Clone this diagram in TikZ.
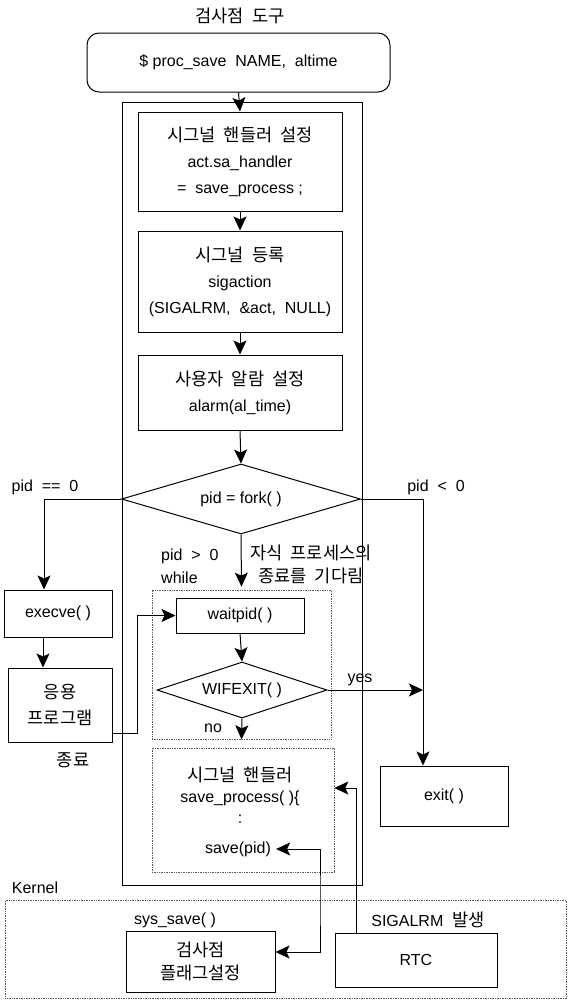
\documentclass[tikz,border=0pt]{standalone}
\usepackage{fontspec}
\setmainfont{Liberation Sans}
\newfontfamily\krfont[Scale=1.1]{Noto Sans CJK KR}
\newcommand\K[1]{{\krfont #1}}
\usetikzlibrary{arrows.meta,shapes.geometric}
\begin{document}
\begin{tikzpicture}[x=1pt,y=-1pt,
  every node/.style={font=\fontsize{16}{26}\selectfont},
  box/.style={draw, line width=1pt, inner sep=0pt, align=center},
  dbox/.style={draw, densely dotted, line width=0.7pt, gray!70!black, inner sep=0pt},
  dia/.style={draw, diamond, line width=1pt, inner sep=0pt, aspect=3},
  lbl/.style={inner sep=1pt, align=center},
  arr/.style={-{Stealth[length=14pt,width=13pt,inset=3pt]}, line width=1pt},
  darr/.style={{Stealth[length=14pt,width=13pt,inset=3pt]}-{Stealth[length=14pt,width=13pt,inset=3pt]}, line width=1pt}]
\useasboundingbox (0,0) rectangle (568,1001);

% title and command
\node[lbl] (title) at (240,16) {\K{검사점\ \ 도구}};
\node[box, rounded corners=12pt, minimum width=303, minimum height=59] (cmd) at (238.5,62.5) {\$ proc\_save\ \ NAME,\ \ altime};

% outer process frame
\node[draw, line width=1pt, minimum width=240, minimum height=783, inner sep=0pt] (outer) at (242,493.5) {};

\node[box, minimum width=204, minimum height=99] (b1) at (240,161.5) {\K{시그널\ \ 핸들러\ \ 설정}\\act.sa\_handler\\=\ \ save\_process\ ;};
\node[box, minimum width=204, minimum height=101] (b2) at (240,281.5) {\K{시그널\ \ 등록}\\sigaction\\(SIGALRM,\ \ \&act,\ \ NULL)};
\node[box, minimum width=204, minimum height=75] (b3) at (240,392.5) {\K{사용자\ \ 알람\ \ 설정}\\alarm(al\_time)};
\node[dia, minimum width=239, minimum height=70] (fork) at (241,499) {pid = fork( )};

% child branch
\node[box, minimum width=108, minimum height=47] (exec) at (58,613.5) {execve( )};
\node[box, minimum width=104, minimum height=74] (app) at (60,705) {\K{응용}\\\K{프로그램}};

% parent loop
\node[dbox, minimum width=179, minimum height=149] (loop) at (241.5,664.5) {};
\node[box, minimum width=128, minimum height=35] (wait) at (240,615.5) {waitpid( )};
\node[dia, minimum width=170, minimum height=56] (wif) at (242,690) {WIFEXIT( )};

% signal handler
\node[dbox, minimum width=182, minimum height=124] (hbox) at (243,810) {};
\node[lbl, font=\fontsize{16}{21}\selectfont] (htext) at (240,795) {\K{시그널\ \ 핸들러}\\save\_process( )\{\\:};
\node[lbl, inner sep=5pt] (savepid) at (238,849) {save(pid)};

% error branch
\node[box, minimum width=128, minimum height=60] (exit) at (444,796) {exit( )};

% kernel
\node[dbox, minimum width=561, minimum height=98, anchor=north west] (kernel) at (5,900) {};
\node[box, minimum width=149, minimum height=61] (ckpt) at (200.5,961.5) {\K{검사점}\\[-3pt]\K{플래그설정}};
\node[box, minimum width=162, minimum height=54] (rtc) at (416,960) {RTC};

% labels
\node[lbl] (l0) at (45,487) {pid\ \ ==\ \ 0};
\node[lbl] (lneg) at (436,487) {pid\ \ <\ \ 0};
\node[lbl, anchor=west, align=left] (lpos) at (160,566) {pid\ \ >\ \ 0\\[-3pt]while};
\node[lbl] (lwait) at (311,564) {\K{자식\ \ 프로세스의}\\[-3pt]\K{종료를\ \ 기다림}};
\node[lbl] (lyes) at (360,680) {yes};
\node[lbl] (lno) at (213,728) {no};
\node[lbl] (lend) at (73,760) {\K{종료}};
\node[lbl] (lker) at (35,888) {Kernel};
\node[lbl] (lsys) at (175,920) {sys\_save( )};
\node[lbl] (lsig) at (428,920) {SIGALRM\ \ \K{발생}};

% connectors
\draw[arr] (cmd.south) -- (b1.north);
\draw[arr] (b1.south) -- (b2.north);
\draw[arr] (b2.south) -- (b3.north);
\draw[arr] (b3.south) -- (fork.north);
\draw[arr] (fork.west) -| ([xshift=-14pt]exec.north);
\draw[arr] ([xshift=-15pt]exec.south) -- ([xshift=-15pt]exec.south |- app.north);
\draw[arr] ([yshift=-28pt]app.east) -- ++(25,0) |- (wait.west);
\draw[arr] (fork.east) -| ([xshift=-21pt]exit.north);
\coordinate (xline) at ([xshift=-21pt]exit.north);
\draw[arr] (fork.south) -- ([yshift=3pt]loop.north);
\draw[arr] (wait.south) -- (wif.north);
\draw[arr] (wif.east) -- (wif.east -| xline);
\draw[arr] (wif.south) -- (loop.south);
\draw[arr] ([xshift=-60pt]rtc.north) |- ([yshift=22pt]hbox.east);
\coordinate (sj) at (320,900);
\draw[darr] (savepid.east) -| (sj) |- ([yshift=9.5pt]ckpt.east);
\end{tikzpicture}
\end{document}
